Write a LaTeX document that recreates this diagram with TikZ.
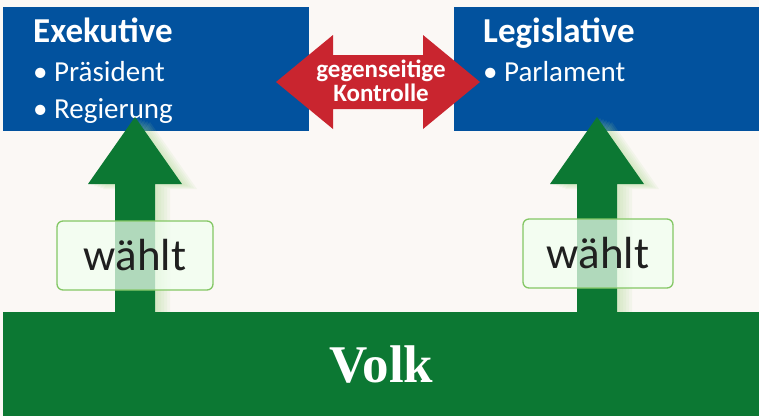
\documentclass[tikz,border=0pt]{standalone}
\usepackage{fontspec}
\setmainfont{Carlito}
\newfontfamily\volkfont{Liberation Serif}
\usetikzlibrary{positioning}
\definecolor{hintergrund}{HTML}{FBF8F5}
\definecolor{staatblau}{HTML}{02529E}
\definecolor{pfeilrot}{HTML}{C9252F}
\definecolor{volkgruen}{HTML}{0C7833}
\definecolor{glowgruen}{HTML}{A9D98A}
\definecolor{rahmengruen}{HTML}{84C765}
\tikzset{
    gewalt/.style={fill=staatblau, inner sep=0pt, outer sep=0pt, anchor=north west},
    titel/.style={text=white, font=\fontsize{35}{36}\selectfont\bfseries, anchor=base west, inner sep=0pt},
    punkt/.style={text=white, font=\fontsize{29}{30}\selectfont, anchor=base west, inner sep=0pt},
    kontrolle/.style={text=white, font=\fontsize{25}{25}\selectfont\bfseries, anchor=base, inner sep=0pt},
    waehlt/.style={draw=rahmengruen, line width=1.3pt, rounded corners=6pt, fill=green!6!white,
        fill opacity=0.72, text opacity=1, text=black!88, font=\fontsize{45}{46}\selectfont,
        minimum height=69pt, inner sep=0pt},
}
\begin{document}
\begin{tikzpicture}[x=1pt,y=-1pt]
    %% background
    \fill[hintergrund] (0,0) rectangle (759,416);
    \useasboundingbox (0,0) rectangle (759,416);
    %% the two powers
    \node[gewalt, minimum width=306pt, minimum height=124pt] (exekutive) at (3,7) {};
    \node[gewalt, minimum width=305pt, minimum height=124pt] (legislative) at (454,7) {};
    \node[titel] (exetitel) at (33,42) {Exekutive};
    \node[punkt] (praesident) at (33,81) {\textbullet\ Präsident};
    \node[punkt] (regierung) at (33,118) {\textbullet\ Regierung};
    \node[titel] (legtitel) at (483,42) {Legislative};
    \node[punkt] (parlament) at (483,81) {\textbullet\ Parlament};
    %% mutual control
    \fill[pfeilrot] (276,82) -- (333,35) -- (333,55) -- (423,55) -- (423,35) -- (480,82)
        -- (423,129) -- (423,109) -- (333,109) -- (333,129) -- cycle;
    \node[kontrolle] (gegen) at (381,77) {gegenseitige};
    \node[kontrolle] (kontr) at (381,101) {Kontrolle};
    %% glow behind the green arrows
    \foreach \x in {135,597}
        \foreach \d in {3,6,...,15} {
            \fill[glowgruen, opacity=0.10, shift={(\d,\d/3)}]
                (\x-20,312) -- (\x-20,184) -- (\x-47,184) -- (\x,117) -- (\x+47,184)
                -- (\x+20,184) -- (\x+20,312) -- cycle;
        }
    %% green arrows
    \foreach \x in {135,597}
        \fill[volkgruen] (\x-20,312) -- (\x-20,184) -- (\x-47,184) -- (\x,117) -- (\x+47,184)
            -- (\x+20,184) -- (\x+20,312) -- cycle;
    %% people
    \node[fill=volkgruen, inner sep=0pt, anchor=north west, minimum width=756pt,
        minimum height=104pt] (volk) at (3,312) {};
    \node[text=white, font=\volkfont\fontsize{53}{55}\selectfont\bfseries] (volktext)
        at (volk.center) {Volk};
    %% elect
    \node[waehlt, minimum width=156pt] (waehltlinks) at (135,255.5) {wählt};
    \node[waehlt, minimum width=150pt] (waehltrechts) at (598,253.5) {wählt};
\end{tikzpicture}
\end{document}
